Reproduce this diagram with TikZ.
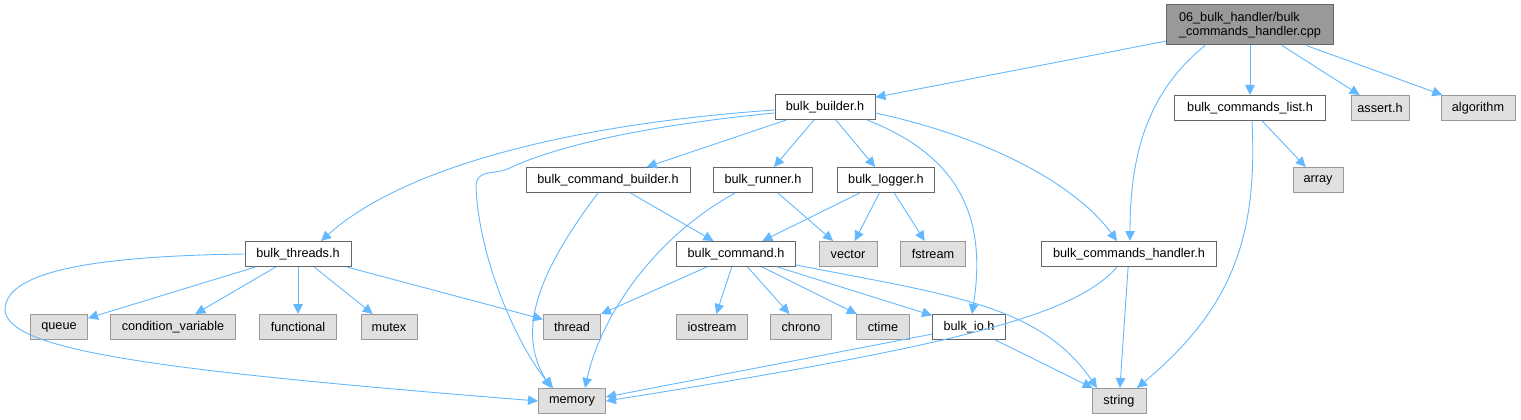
\documentclass[tikz,border=0pt]{standalone}
\usepackage{fontspec}
\setmainfont{Liberation Sans}
\usepackage{xcolor}
\usetikzlibrary{arrows.meta}
\definecolor{edgeblue}{HTML}{63B8FF}
\definecolor{boxline}{HTML}{666666}
\definecolor{sysline}{HTML}{999999}
\definecolor{sysfill}{HTML}{E0E0E0}
\definecolor{rootfill}{HTML}{999999}

\begin{document}
\begin{tikzpicture}[x=1pt, y=-1pt,
    file/.style={draw=boxline, fill=white, rectangle, minimum height=25pt, inner sep=0pt, line width=1pt, font=\fontsize{12.7}{14.5}\selectfont},
    sysfile/.style={file, draw=sysline, fill=sysfill},
    rootfile/.style={file, fill=rootfill, minimum height=40pt, align=left},
    arrow/.style={-{Triangle[length=10pt,width=9.5pt]}, draw=edgeblue, line width=0.9pt}
]
\useasboundingbox (0,0) rectangle (1521,420);

% Top row
\node[rootfile, minimum width=167pt] (root) at (1250,25) {06\_bulk\_handler/bulk\\\_commands\_handler.cpp};
\node[file, minimum width=100pt] (builder) at (825,107) {bulk\_builder.h};
\node[file, minimum width=151pt] (cmdlist) at (1250,108) {bulk\_commands\_list.h};
\node[sysfile, minimum width=58pt] (assert) at (1380,108) {assert.h};
\node[sysfile, minimum width=74pt] (algorithm) at (1478,108) {algorithm};

% Second row
\node[file, minimum width=164pt] (cmdbuilder) at (608,180) {bulk\_command\_builder.h};
\node[file, minimum width=99pt] (runner) at (763,180) {bulk\_runner.h};
\node[file, minimum width=97pt] (logger) at (886,180) {bulk\_logger.h};
\node[sysfile, minimum width=50pt] (array) at (1318,180) {array};

% Third row
\node[file, minimum width=106pt] (threads) at (298,254) {bulk\_threads.h};
\node[file, minimum width=119pt] (command) at (736,254) {bulk\_command.h};
\node[sysfile, minimum width=58pt] (vector) at (848,254) {vector};
\node[sysfile, minimum width=65pt] (fstream) at (933,254) {fstream};
\node[file, minimum width=175pt] (handler) at (1129,254) {bulk\_commands\_handler.h};

% Fourth row
\node[sysfile, minimum width=57pt] (queue) at (59,327) {queue};
\node[sysfile, minimum width=125pt] (condvar) at (173,327) {condition\_variable};
\node[sysfile, minimum width=77pt] (functional) at (298,327) {functional};
\node[sysfile, minimum width=56pt] (mutex) at (389,327) {mutex};
\node[sysfile, minimum width=57pt] (thread) at (572,327) {thread};
\node[sysfile, minimum width=71pt] (iostream) at (712,327) {iostream};
\node[sysfile, minimum width=61pt] (chrono) at (801,327) {chrono};
\node[sysfile, minimum width=53pt] (ctime) at (883,327) {ctime};
\node[file, minimum width=73pt] (bulkio) at (969,327) {bulk\_io.h};

% Bottom row
\node[sysfile, minimum width=67pt] (memory) at (572,401) {memory};
\node[sysfile, minimum width=54pt] (string) at (1119,401) {string};

% Edges from the cpp file
\draw[arrow] (root) -- (builder);
\draw[arrow] (root) -- (cmdlist);
\draw[arrow] (root) -- (assert);
\draw[arrow] (root) -- (algorithm);
\draw[arrow] ([xshift=-45pt]root.south) .. controls (1150,90) and (1130,150) .. ([xshift=1pt]handler.north);

% Edges from bulk_builder.h
\draw[arrow] ([yshift=-3pt]builder.west) .. controls (560,125) and (400,170) .. ([xshift=23pt]threads.north);
\draw[arrow] ([yshift=-6pt]builder.west) .. controls (650,125) and (560,145) .. (512,167)
    .. controls (495,176) and (478,168) .. (476,185) .. controls (478,260) and (520,350) .. ([xshift=-19pt]memory.north);
\draw[arrow] (builder) -- (cmdbuilder);
\draw[arrow] (builder) -- (runner);
\draw[arrow] (builder) -- (logger);
\draw[arrow] ([xshift=42pt]builder.south) .. controls (970,160) and (985,230) .. ([xshift=3pt]bulkio.north);
\draw[arrow] ([yshift=-6pt]builder.east) .. controls (1000,140) and (1080,190) .. ([xshift=-12pt]handler.north);

% Edges from bulk_commands_list.h
\draw[arrow] (cmdlist) -- (array);
\draw[arrow] ([xshift=2pt]cmdlist.south) .. controls (1258,240) and (1230,310) .. ([xshift=18pt]string.north);

% Edges from the second row
\draw[arrow] ([xshift=-10pt]cmdbuilder.south) .. controls (540,270) and (515,330) .. ([xshift=-21pt]memory.north);
\draw[arrow] (cmdbuilder) -- (command);
\draw[arrow] ([xshift=-28pt]runner.south) .. controls (650,240) and (600,320) .. ([xshift=13pt]memory.north);
\draw[arrow] (runner) -- (vector);
\draw[arrow] (logger) -- (command);
\draw[arrow] (logger) -- (vector);
\draw[arrow] (logger) -- (fstream);

% Edges from bulk_threads.h
\draw[arrow] (threads.west) .. controls (100,256) and (5,270) .. (5,310) .. controls (8,350) and (150,370) .. (memory.west);
\foreach \dst in {queue, condvar, functional, mutex, thread}
    \draw[arrow] (threads) -- (\dst);

% Edges from bulk_command.h
\foreach \dst in {thread, iostream, chrono, ctime, bulkio}
    \draw[arrow] (command) -- (\dst);
\draw[arrow] ([yshift=-11pt]command.east) .. controls (950,295) and (1040,305) .. ([xshift=-22pt]string.north);

% Edges into memory and string
\draw[arrow] (bulkio) -- ([yshift=4pt]memory.east);
\draw[arrow] (bulkio) -- (string);
\draw[arrow] (handler) -- (string);
\draw[arrow] ([xshift=-12pt]handler.south) .. controls (1075,315) and (960,345) .. (memory.east);

\end{tikzpicture}
\end{document}
